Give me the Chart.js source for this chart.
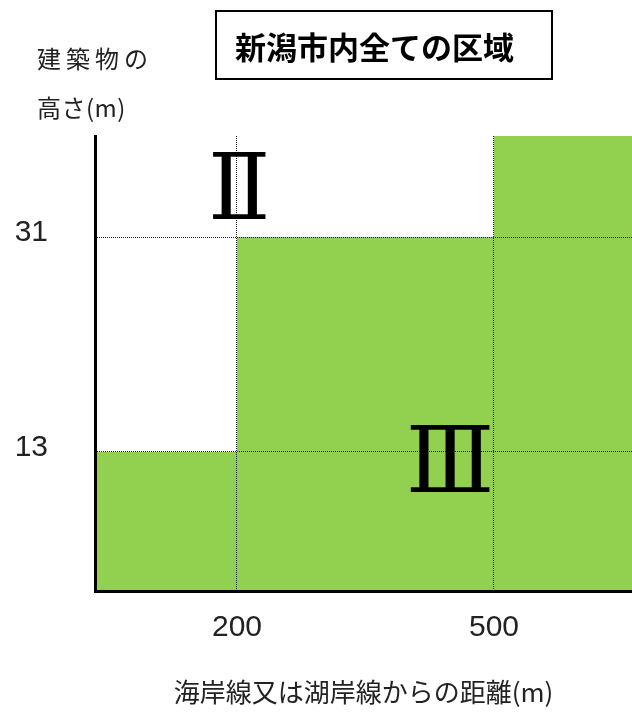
<!DOCTYPE html>
<html lang="ja">
<head>
<meta charset="utf-8">
<title>新潟市内全ての区域</title>
<script src="https://cdn.jsdelivr.net/npm/chart.js@4.4.1/dist/chart.umd.min.js"></script>
<style>
  body { margin: 0; background: #fff; }
  #wrap { position: relative; width: 632px; height: 713px; overflow: hidden; }
  #chart { position: absolute; left: 0; top: 0; }
  .box-title {
    position: absolute; left: 215px; top: 10px; width: 334px; height: 66px;
    border: 2px solid #000; box-sizing: content-box;
    display: flex; align-items: center;
    font-family: "Noto Sans CJK JP", sans-serif; font-size: 31px; font-weight: bold;
    color: #000; white-space: nowrap;
  }
  .box-title span { margin-left: 18px; }
  .y-title {
    position: absolute; left: 37px;
    font-family: "Noto Sans CJK JP", sans-serif; font-size: 24px; line-height: 30px;
    color: #222; white-space: nowrap;
  }
</style>
</head>
<body>
<div id="wrap">
  <canvas id="chart" width="632" height="713"></canvas>
  <div class="box-title"><span>新潟市内全ての区域</span></div>
  <div class="y-title" style="top: 43px; letter-spacing: 5px;">建築物の</div>
  <div class="y-title" style="top: 92px; letter-spacing: 0.5px;">高さ(m)</div>
</div>
<script>
// distance from the shore line (m) and the height limit that applies from there (m)
const distances = [0, 200, 500, 700];
const heightLimits = [13, 31, 40, 40];

const xTickValues = [200, 500];
const yTickValues = [13, 31];

// zone names and the centre of each name (in data units)
const zoneNames = ['Ⅱ', 'Ⅲ'];
const zoneDistances = [203, 449];
const zoneHeights = [35.6, 12.4];

// linear scale with a piecewise mapping so the schematic spacing is kept
class PiecewiseScale extends Chart.LinearScale {
  static id = 'piecewise';
  static defaults = Chart.LinearScale.defaults;

  toDecimal(v) {
    const vals = this.options.breakValues, at = this.options.breakAt;
    for (let i = 1; i < vals.length; i++) {
      if (v <= vals[i] || i === vals.length - 1) {
        return at[i - 1] + (v - vals[i - 1]) / (vals[i] - vals[i - 1]) * (at[i] - at[i - 1]);
      }
    }
    return 0;
  }
  getPixelForValue(value) {
    if (value === null || value === undefined) return NaN;
    return this.getPixelForDecimal(this.toDecimal(value));
  }
  getValueForPixel(pixel) {
    const d = this.getDecimalForPixel(pixel);
    const vals = this.options.breakValues, at = this.options.breakAt;
    for (let i = 1; i < at.length; i++) {
      if (d <= at[i] || i === at.length - 1) {
        return vals[i - 1] + (d - at[i - 1]) / (at[i] - at[i - 1]) * (vals[i] - vals[i - 1]);
      }
    }
    return 0;
  }
}
Chart.register(PiecewiseScale);

// draws the zone names, centred on their glyph box
const zoneLabels = {
  id: 'zoneLabels',
  afterDraw(chart) {
    const { ctx, scales: { x, y } } = chart;
    ctx.save();
    ctx.font = '92px "DejaVu Serif", "Liberation Serif", serif';
    ctx.fillStyle = '#000';
    ctx.textAlign = 'left';
    ctx.textBaseline = 'alphabetic';
    zoneNames.forEach((name, i) => {
      const m = ctx.measureText(name);
      const cx = x.getPixelForValue(zoneDistances[i]);
      const cy = y.getPixelForValue(zoneHeights[i]);
      const w = m.actualBoundingBoxLeft + m.actualBoundingBoxRight;
      const h = m.actualBoundingBoxAscent + m.actualBoundingBoxDescent;
      ctx.fillText(name, cx - w / 2 + m.actualBoundingBoxLeft, cy + h / 2 - m.actualBoundingBoxDescent);
    });
    ctx.restore();
  }
};

const tickFont = { family: '"Liberation Sans", sans-serif', size: 30 };
const gridLine = { color: '#222', lineWidth: 1, drawTicks: false, z: 1 };
const axisLine = { display: true, color: '#000', width: 3, dash: [1, 1], z: 1 };

new Chart(document.getElementById('chart'), {
  type: 'line',
  data: {
    datasets: [{
      data: distances.map((d, i) => ({ x: d, y: heightLimits[i] })),
      stepped: true,
      fill: 'origin',
      backgroundColor: '#92d050',
      borderWidth: 0,
      borderColor: '#92d050',
      pointRadius: 0
    }]
  },
  options: {
    responsive: false,
    animation: false,
    events: [],
    layout: { padding: { top: 136, left: 0, right: 0, bottom: 0 } },
    plugins: { legend: { display: false }, tooltip: { enabled: false } },
    scales: {
      x: {
        type: 'piecewise',
        position: 'bottom',
        min: 0, max: 700,
        breakValues: [0, 200, 500, 700],
        breakAt: [0, 0.2644, 0.743, 1],
        afterBuildTicks: s => { s.ticks = xTickValues.map(v => ({ value: v })); },
        afterFit: s => { s.height = 122; },
        grid: gridLine,
        border: axisLine,
        ticks: { font: tickFont, color: '#222', padding: 19, maxRotation: 0, autoSkip: false },
        title: {
          display: true,
          text: '海岸線又は湖岸線からの距離(m)',
          font: { family: '"Noto Sans CJK JP", sans-serif', size: 26 },
          color: '#222',
          padding: { top: 0, bottom: 5 }
        }
      },
      y: {
        type: 'piecewise',
        position: 'left',
        min: 0, max: 40,
        breakValues: [0, 13, 31, 40],
        breakAt: [0, 0.3055, 0.778, 1],
        afterBuildTicks: s => { s.ticks = yTickValues.map(v => ({ value: v })); },
        afterFit: s => { s.width = 95; },
        grid: gridLine,
        border: axisLine,
        ticks: { font: tickFont, color: '#222', padding: 47, labelOffset: -4, autoSkip: false }
      }
    }
  },
  plugins: [zoneLabels]
});
</script>
</body>
</html>
